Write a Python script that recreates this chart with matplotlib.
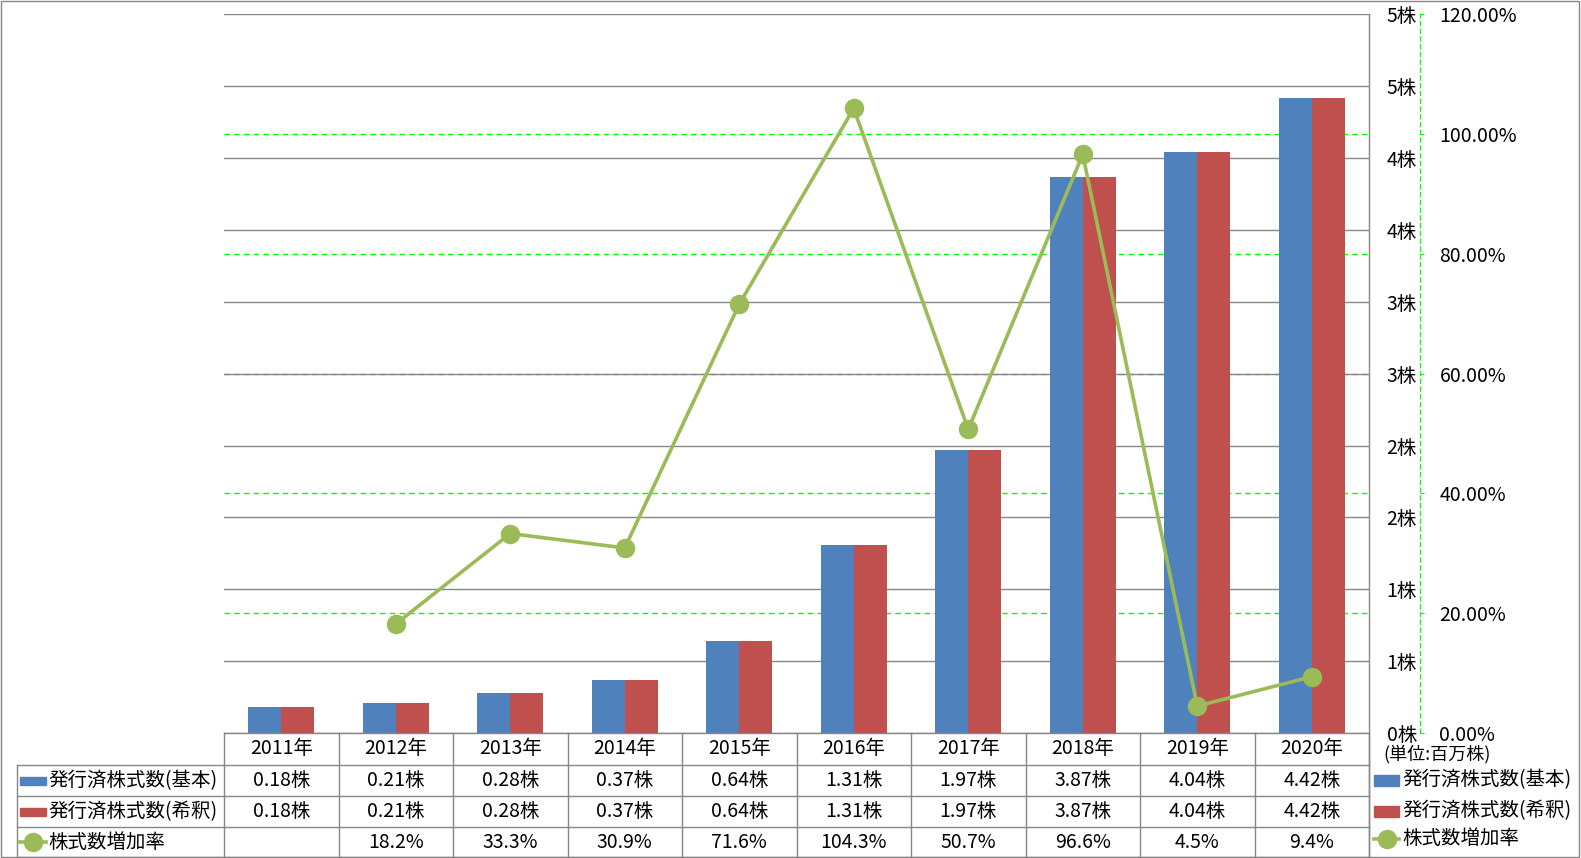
import numpy as np
import matplotlib
matplotlib.use("Agg")
import matplotlib.pyplot as plt
from matplotlib.lines import Line2D
from matplotlib.patches import Rectangle
from matplotlib.transforms import blended_transform_factory

plt.rcParams['font.family'] = ['Noto Sans CJK JP', 'DejaVu Sans']

# Data
years = ["2011年", "2012年", "2013年", "2014年", "2015年",
         "2016年", "2017年", "2018年", "2019年", "2020年"]
shares_basic = [0.18, 0.21, 0.28, 0.37, 0.64, 1.31, 1.97, 3.87, 4.04, 4.42]
shares_diluted = [0.18, 0.21, 0.28, 0.37, 0.64, 1.31, 1.97, 3.87, 4.04, 4.42]
growth_rate = [np.nan, 18.2, 33.3, 30.9, 71.6, 104.3, 50.7, 96.6, 4.5, 9.4]
series_names = ["発行済株式数(基本)", "発行済株式数(希釈)", "株式数増加率"]
share_ticks = [0, 0.5, 1, 1.5, 2, 2.5, 3, 3.5, 4, 4.5, 5]
share_labels = ["0株", "1株", "1株", "2株", "2株", "3株", "3株", "4株", "4株", "5株", "5株"]
pct_ticks = [0, 20, 40, 60, 80, 100, 120]
unit_label = "(単位:百万株)"

BLUE = "#4F81BD"
RED = "#C0504D"
GREEN = "#9BBB59"
LIME = "#00FF00"
GRAY = "#868686"
FS = 14

W, H = 1581, 858
fig = plt.figure(figsize=(W / 100, H / 100), dpi=100)


def fx(x):
    return x / W


def fy(y):
    return 1 - y / H


L, R, T, B = 224, 1369, 14.3, 733
ax = fig.add_axes([fx(L), fy(B), fx(R) - fx(L), fy(T) - fy(B)])
ax2 = ax.twinx()

# -----------------------------
# Bars
# -----------------------------
x = np.arange(len(years))
w = 0.288
ax.bar(x - w / 2, shares_basic, w, color=BLUE, zorder=2)
ax.bar(x + w / 2, shares_diluted, w, color=RED, zorder=2)
ax.set_xlim(-0.5, len(years) - 0.5)
ax.set_ylim(0, 5)
ax.set_xticks([])
ax.yaxis.tick_right()
ax.set_yticks(share_ticks)
ax.set_yticklabels(share_labels)
ax.tick_params(axis="y", length=0, pad=34.5, labelsize=FS)
for lab in ax.get_yticklabels():
    lab.set_ha("right")
ax.grid(axis="y", color=GRAY, lw=1)
ax.set_axisbelow(True)
for s in ax.spines.values():
    s.set_visible(False)

# -----------------------------
# Growth rate line (secondary axis)
# -----------------------------
ax2.set_ylim(0, 120)
ax2.plot(x, growth_rate, color=GREEN, lw=2.6, marker="o", ms=13, zorder=3)
ax2.set_yticks(pct_ticks)
ax2.set_yticklabels([f"{p:.2f}%" for p in pct_ticks])
ax2.tick_params(axis="y", colors=LIME, labelcolor="black", length=3, pad=11, labelsize=FS)
for k, s in ax2.spines.items():
    s.set_visible(k == "right")
ax2.spines["right"].set_position(("outward", 51 * 0.72))
ax2.spines["right"].set_color(LIME)
ax2.spines["right"].set_linestyle((0, (4, 3)))

# green dashed gridlines behind the bars and the gray grid
gtrans = blended_transform_factory(ax.transAxes, ax2.transData)
for p in pct_ticks[1:-1]:
    ax.plot([0, 1], [p, p], transform=gtrans, color=LIME, lw=1,
            ls=(0, (4, 3)), zorder=0.3)

# -----------------------------
# Data table
# -----------------------------
def fline(xs, ys, color=GRAY, **kw):
    fig.add_artist(Line2D([fx(v) for v in xs], [fy(v) for v in ys],
                          transform=fig.transFigure, color=color, **kw))


coltrans = blended_transform_factory(ax.transData, fig.transFigure)
rows_y = [733, 765, 796, 827, 857]

fline([L, R], [733, 733], lw=1)
for yy in rows_y[1:]:
    fline([17, R], [yy, yy], lw=1)
fline([17, 17], [765, 857], lw=1)
fline([R, R], [T, 857], lw=1)
for i in range(len(years) + 1):
    ax.plot([i - 0.5, i - 0.5], [fy(733), fy(857)], transform=coltrans,
            color=GRAY, lw=1, clip_on=False)

row_c = [(rows_y[k] + rows_y[k + 1]) / 2 for k in range(4)]
for i, yr in enumerate(years):
    fig.text(i, fy(row_c[0]), yr, transform=coltrans, ha="center", va="center", fontsize=FS)
    fig.text(i, fy(row_c[1]), f"{shares_basic[i]:.2f}株", transform=coltrans,
             ha="center", va="center", fontsize=FS)
    fig.text(i, fy(row_c[2]), f"{shares_diluted[i]:.2f}株", transform=coltrans,
             ha="center", va="center", fontsize=FS)
    if not np.isnan(growth_rate[i]):
        fig.text(i, fy(row_c[3]), f"{growth_rate[i]:.1f}%", transform=coltrans,
                 ha="center", va="center", fontsize=FS)


def legend_key(x0, x1, yc, kind, color, h):
    if kind == "bar":
        fig.add_artist(Rectangle((fx(x0), fy(yc + h / 2)), fx(x1) - fx(x0), h / H,
                                 transform=fig.transFigure, color=color))
    else:
        fline([x0, x1], [yc, yc], color=color, lw=2.6)
        fline([(x0 + x1) / 2], [yc], color=color, lw=0, marker="o", ms=13)


kinds = ["bar", "bar", "line"]
colors = [BLUE, RED, GREEN]
# left legend (table rows)
for k in range(3):
    legend_key(20, 46, row_c[k + 1], kinds[k], colors[k], 8)
    fig.text(fx(48), fy(row_c[k + 1]), series_names[k], ha="left", va="center", fontsize=FS)

# right legend
fig.text(fx(1383), fy(754), unit_label, ha="left", va="center", fontsize=FS - 1)
right_y = [780, 811, 839]
for k in range(3):
    legend_key(1374, 1399, right_y[k], kinds[k], colors[k], 11)
    fig.text(fx(1402), fy(right_y[k]), series_names[k], ha="left", va="center", fontsize=FS)

# figure border
fig.add_artist(Rectangle((fx(1), fy(857)), fx(1578), 856 / H, transform=fig.transFigure,
                         fill=False, edgecolor=GRAY, lw=1))

plt.savefig("out.png", dpi=100)
plt.close()
